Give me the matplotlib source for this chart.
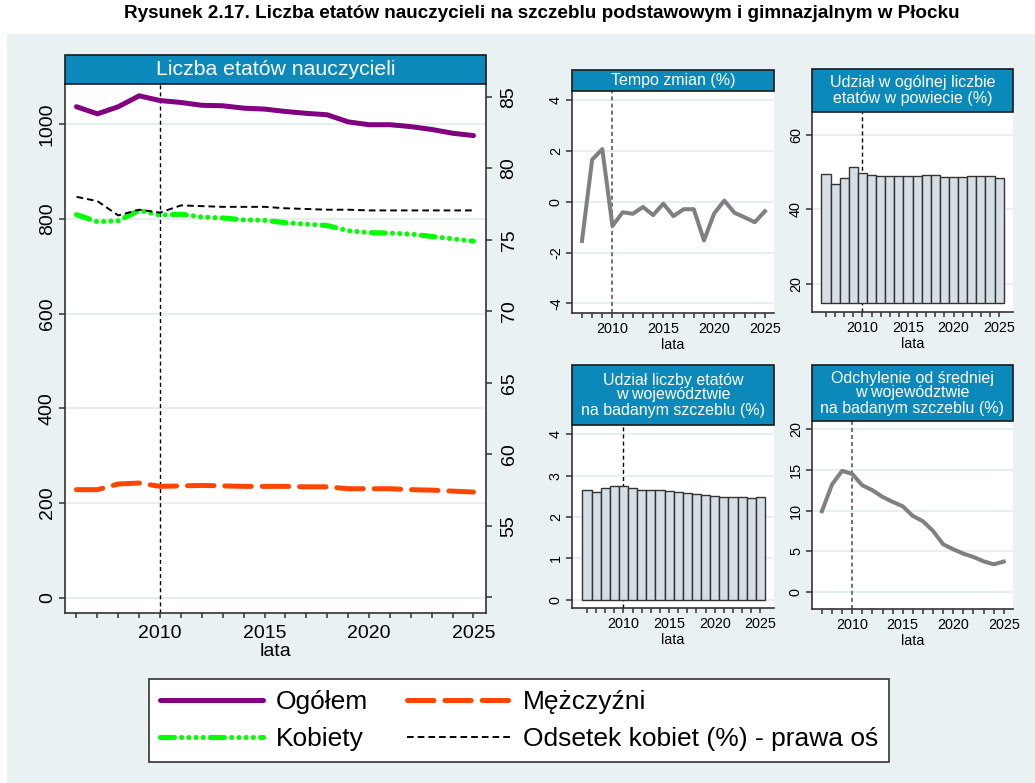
import matplotlib
matplotlib.use('Agg')
from matplotlib import pyplot as plt
from matplotlib.patches import Rectangle
import numpy as np

plt.rcParams["font.family"] = ["Liberation Sans", "DejaVu Sans"]
plt.rcParams["axes.unicode_minus"] = False
plt.rcParams["lines.scale_dashes"] = False

# data
years = list(range(2006, 2026))
ogolem = [1037, 1022, 1037, 1060, 1050, 1046, 1040, 1039, 1034, 1032,
          1027, 1023, 1020, 1005, 999, 999, 995, 989, 981, 976]
kobiety = [809, 794, 796, 818, 808, 810, 804, 802, 798, 797,
           792, 789, 786, 775, 771, 770, 768, 763, 758, 753]
mezczyzni = [228, 228, 240, 242, 235, 236, 237, 236, 235, 235,
             235, 234, 234, 230, 230, 230, 228, 227, 225, 223]
odsetek = [78.0, 77.7, 76.7, 77.1, 76.9, 77.4, 77.35, 77.3, 77.3, 77.3,
           77.2, 77.15, 77.1, 77.1, 77.05, 77.05, 77.05, 77.05, 77.05, 77.05]

years_tempo = list(range(2007, 2026))
tempo = [-1.54, 1.66, 2.08, -0.95, -0.41, -0.47, -0.2, -0.52, -0.07, -0.56,
         -0.29, -0.29, -1.52, -0.46, 0.05, -0.43, -0.61, -0.8, -0.37]

udzial_powiat = [49.4, 46.7, 48.5, 51.3, 49.7, 49.1, 48.8, 48.8, 48.8, 49.0,
                 49.0, 49.3, 49.3, 48.6, 48.6, 48.6, 48.8, 48.8, 48.8, 48.5]
udzial_woj = [2.66, 2.61, 2.69, 2.74, 2.74, 2.69, 2.66, 2.66, 2.64, 2.62,
              2.59, 2.58, 2.56, 2.52, 2.51, 2.49, 2.48, 2.48, 2.46, 2.48]
odchylenie = [9.92, 13.2, 14.88, 14.5, 13.1, 12.5, 11.68, 11.07, 10.53, 9.34,
              8.69, 7.5, 5.86, 5.25, 4.71, 4.3, 3.77, 3.4, 3.73]

W, H = 1035, 783
BG = '#EAF1F3'
BAND = '#0B89BA'
GRID = '#E6EEF0'
AXC = '#333333'
BAR_BASE = 14.7
VDASH = (0, (2.9, 2.2))

fig = plt.figure(figsize=(W / 100, H / 100), dpi=100, facecolor='white')
fig.add_artist(Rectangle((7 / W, 0), 1 - 7 / W, 1 - 34 / H, transform=fig.transFigure,
                         fc=BG, ec='none', zorder=-5))
fig.text(542 / W, 1 - 13 / H,
         'Rysunek 2.17. Liczba etatów nauczycieli na szczeblu podstawowym i gimnazjalnym w Płocku',
         ha='center', va='center', size=13.6, weight='bold')


def px_axes(x0, y0, x1, y1):
    return fig.add_axes([x0 / W, 1 - y1 / H, (x1 - x0) / W, (y1 - y0) / H])


def band(x0, y0, x1, y1, text, size):
    fig.add_artist(Rectangle((x0 / W, 1 - y1 / H), (x1 - x0) / W, (y1 - y0) / H,
                             transform=fig.transFigure, fc=BAND, ec='#1a1a1a', lw=1.2, zorder=3))
    fig.text((x0 + x1) / 2 / W, 1 - (y0 + y1) / 2 / H, text, color='white', ha='center',
             va='center', size=size, linespacing=1.0, zorder=4)


def style(ax, yticks, xmin_tick, fs, xpad=2, lpad=0):
    for s in ['top', 'right']:
        ax.spines[s].set_visible(False)
    for s in ['left', 'bottom']:
        ax.spines[s].set_color(AXC)
        ax.spines[s].set_linewidth(1.2)
    ax.set_yticks(yticks)
    ax.set_xticks([2010, 2015, 2020, 2025])
    ax.set_xticks(range(xmin_tick, 2026), minor=True)
    ax.tick_params(axis='x', which='both', length=3.6, width=1.1, color=AXC, labelsize=fs, pad=xpad)
    ax.tick_params(axis='y', length=4.5, width=1.1, color=AXC, labelsize=fs, pad=2)
    for t in ax.get_yticklabels():
        t.set_rotation(90)
        t.set_va('center')
    ax.grid(axis='y', color=GRID, lw=1.5)
    ax.set_axisbelow(True)
    ax.set_xlabel('lata', size=fs, labelpad=lpad)


# main chart
band(65, 55, 486, 84, 'Liczba etatów nauczycieli', 15.3)
ax = px_axes(65, 84, 486, 613)
style(ax, [0, 200, 400, 600, 800, 1000], 2006, 14, xpad=5, lpad=1)
ax.spines['right'].set_visible(True)
ax.spines['right'].set_color(AXC)
ax.spines['right'].set_linewidth(1.2)
ax.set_xlim(2005.45, 2025.6)
ax.set_ylim(-32.5, 1085)
ax.axvline(2010, color='black', lw=1.0, ls=VDASH, zorder=1)
l1, = ax.plot(years, ogolem, color='#800080', lw=3.6, solid_capstyle='round', zorder=3)
l2, = ax.plot(years, kobiety, color='#00FF00', lw=3.7, dash_capstyle='round',
              dashes=(10, 5.2, 0.01, 5.2, 0.01, 5.2, 0.01, 5.2, 0.01, 5.2), zorder=3)
l3, = ax.plot(years, mezczyzni, color='#FF4500', lw=3.6, dash_capstyle='round',
              dashes=(19, 7.9), zorder=3)
ax2 = ax.twinx()
ax2.set_ylim(48.9, 85.89)
l4, = ax2.plot(years, odsetek, color='black', lw=1.4, dashes=(4.8, 2.9))
ax2.set_yticks([50, 55, 60, 65, 70, 75, 80, 85])
ax2.set_yticklabels(['', '55', '60', '65', '70', '75', '80', '85'])
ax2.tick_params(axis='y', length=4.5, width=1.1, color=AXC, labelsize=14, pad=6)
for t in ax2.get_yticklabels():
    t.set_rotation(90)
    t.set_va('center')
for s in ['top', 'left', 'bottom', 'right']:
    ax2.spines[s].set_visible(False)

# tempo zmian
band(572, 70, 774, 91, 'Tempo zmian (%)', 11.5)
a1 = px_axes(572, 91, 774, 313)
style(a1, [-4, -2, 0, 2, 4], 2007, 10.4, xpad=3, lpad=1)
a1.set_xlim(2006.02, 2025.89)
a1.set_ylim(-4.38, 4.37)
a1.axvline(2010, color='#666666', lw=1.3, ls=VDASH, zorder=1)
a1.plot(years_tempo, tempo, color='#808080', lw=2.9, zorder=3)

# udzial w powiecie
band(812, 69, 1013, 112, 'Udział w ogólnej liczbie\netatów w powiecie (%)', 11.5)
a2 = px_axes(812, 112, 1013, 312)
style(a2, [20, 40, 60], 2006, 10.4, xpad=3, lpad=1)
a2.set_xlim(2004.46, 2026.53)
a2.set_ylim(12.4, 66.1)
a2.axvline(2010, color='black', lw=1.0, ls=VDASH, zorder=1)
a2.bar(years, np.array(udzial_powiat) - BAR_BASE, bottom=BAR_BASE, width=1.0,
       color='#D6DFE6', edgecolor='#333333', lw=1.0, zorder=2)

# udzial w wojewodztwie
band(572, 365, 774, 425, 'Udział liczby etatów\nw województwie\nna badanym szczeblu (%)', 11.5)
a3 = px_axes(572, 425, 774, 608)
style(a3, [0, 1, 2, 3, 4], 2006, 10.4, xpad=3, lpad=1)
a3.set_xlim(2004.36, 2026.5)
a3.set_ylim(-0.2, 4.22)
a3.axvline(2010, color='black', lw=1.0, ls=VDASH, zorder=1)
a3.bar(years, udzial_woj, width=1.0, color='#D6DFE6', edgecolor='#333333', lw=1.0, zorder=2)

# odchylenie
band(812, 365, 1013, 421, 'Odchylenie od średniej\nw województwie\nna badanym szczeblu (%)', 11.5)
a4 = px_axes(812, 421, 1013, 609)
style(a4, [0, 5, 10, 15, 20], 2007, 10.4, xpad=3, lpad=1)
a4.set_xlim(2006.02, 2025.92)
a4.set_ylim(-2.09, 21.0)
a4.axvline(2010, color='#666666', lw=1.3, ls=VDASH, zorder=1)
a4.plot(years_tempo, odchylenie, color='#808080', lw=2.9, zorder=3)

leg = fig.legend([l1, l2, l3, l4],
                 ['Ogółem', 'Kobiety', 'Mężczyźni', 'Odsetek kobiet (%) - prawa oś'],
                 loc='upper left', bbox_to_anchor=(149 / W, 1 - 679 / H), ncol=2,
                 frameon=True, fancybox=False, edgecolor=AXC, framealpha=1, fontsize=19,
                 handlelength=3.9, handletextpad=0.5, columnspacing=1.45, borderpad=0.42,
                 labelspacing=0.5, borderaxespad=0)
leg.get_frame().set_linewidth(1.2)

fig.savefig('out.png', dpi=100, facecolor='white')
